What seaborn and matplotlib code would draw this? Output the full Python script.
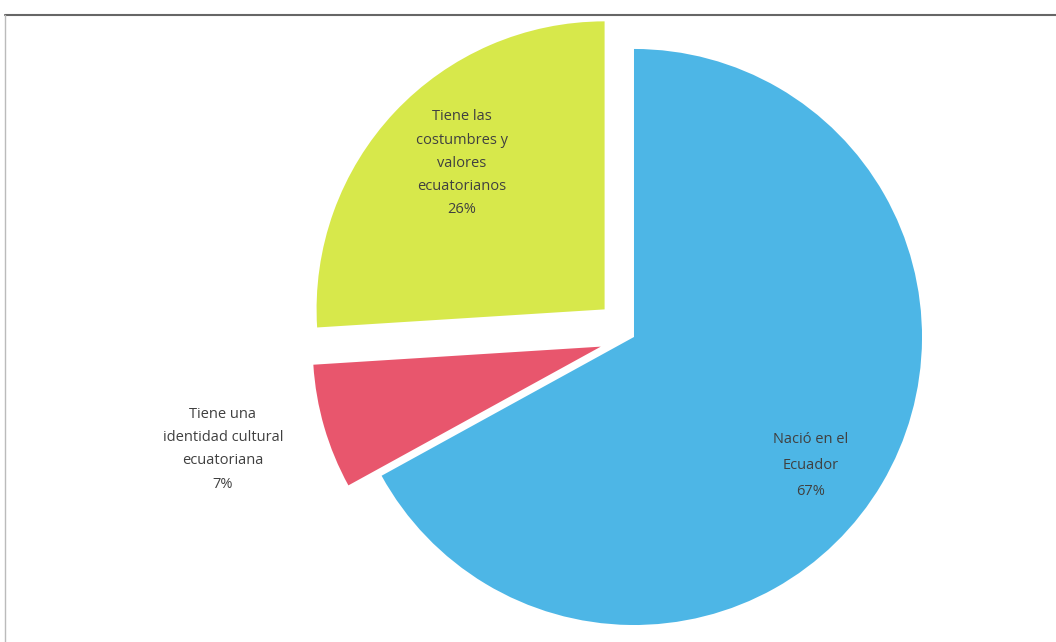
import numpy as np
import matplotlib
matplotlib.use("Agg")
import matplotlib.pyplot as plt
import seaborn as sns
from matplotlib.lines import Line2D

# data
labels = ["Nació en el\nEcuador\n67%",
          "Tiene una\nidentidad cultural\necuatoriana\n7%",
          "Tiene las\ncostumbres y\nvalores\necuatorianos\n26%"]
values = [67, 7, 26]
colors = ["#4db6e6", "#e8566d", "#d7e84b"]
explode = [0, 0.12, 0.14]

# label placement: radius and angle shift from the wedge middle
label_r = [0.76, 1.36, 0.71]
label_shift = [-5.5, -1.0, -2.4]
label_spacing = [2.0, 1.75, 1.75]

sns.set_style("white")
plt.rcParams["font.family"] = ["Open Sans", "DejaVu Sans"]

fig = plt.figure(figsize=(10.56, 6.42), dpi=100)
ax = fig.add_axes([0, 0, 1, 1])

wedges, _ = ax.pie(values, colors=colors, explode=explode, startangle=90,
                   counterclock=False, radius=1,
                   wedgeprops=dict(linewidth=0))

for w, lab, r, sh, ls in zip(wedges, labels, label_r, label_shift, label_spacing):
    ang = np.deg2rad((w.theta1 + w.theta2) / 2 + sh)
    cx, cy = w.center
    ax.text(cx + r * np.cos(ang), cy + r * np.sin(ang), lab,
            ha="center", va="center", fontsize=10.5, color="#404040",
            linespacing=ls)

ax.set_xlim(-2.201, 1.465)
ax.set_ylim(-1.059, 1.170)
ax.set_aspect("equal")
ax.axis("off")

# scanned frame lines
fig.add_artist(Line2D([0.005, 1], [0.977, 0.977], color="#666666", lw=1.5,
                      transform=fig.transFigure))
fig.add_artist(Line2D([0.005, 0.005], [0, 0.977], color="#bbbbbb", lw=1,
                      transform=fig.transFigure))

fig.savefig("out.png", dpi=100, facecolor="white")
